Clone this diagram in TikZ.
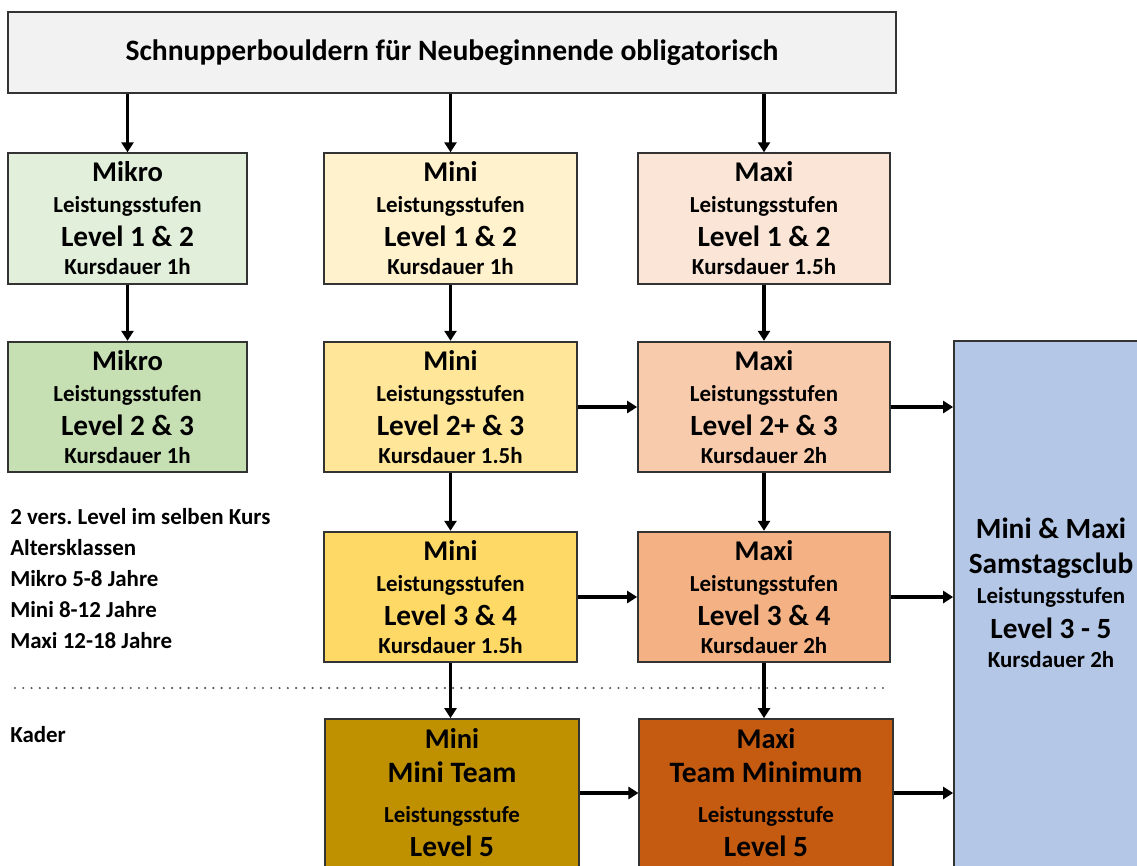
\documentclass[tikz,border=0pt]{standalone}
\usepackage{fontspec}
\setmainfont{Carlito}
\usetikzlibrary{arrows.meta}
\frenchspacing

\definecolor{rand}{HTML}{333333}
\definecolor{grau}{HTML}{F2F2F2}
\definecolor{mikroA}{HTML}{E2EFDA}
\definecolor{mikroB}{HTML}{C6E0B4}
\definecolor{miniA}{HTML}{FFF2CC}
\definecolor{miniB}{HTML}{FFE699}
\definecolor{miniC}{HTML}{FFD966}
\definecolor{miniD}{HTML}{BF9000}
\definecolor{maxiA}{HTML}{FBE5D6}
\definecolor{maxiB}{HTML}{F8CBAD}
\definecolor{maxiC}{HTML}{F4B183}
\definecolor{maxiD}{HTML}{C55A11}
\definecolor{club}{HTML}{B4C7E7}

\newcommand{\gross}[1]{{\fontsize{21.4}{20}\selectfont #1}}
\newcommand{\level}[1]{{\fontsize{22}{20}\selectfont #1}}
\newcommand{\kurs}[3]{\gross{#1}\\
  Leistungsstufen\\[2.25pt]
  \level{#2}\\[-2.25pt]
  Kursdauer #3}
\newcommand{\team}[2]{\gross{#1}\\[2.25pt]
  {\fontsize{22.2}{20}\selectfont #2}\\[6.75pt]
  Leistungsstufe\\[2.25pt]
  \level{Level 5}}

\begin{document}
\begin{tikzpicture}[x=0.75pt,y=-0.75pt,
    box/.style={draw=rand,line width=1.3pt,align=center,inner sep=0pt,
      font=\fontsize{17.2}{23.25}\selectfont\bfseries},
    mikro/.style={box,minimum width=179pt,minimum height=98pt},
    mini/.style={box,minimum width=189.5pt,minimum height=98pt},
    maxi/.style={box,minimum width=189pt,minimum height=98pt},
    kader/.style={box,minimum width=190pt,minimum height=111pt},
    txt/.style={align=center,inner sep=0pt,font=\fontsize{17.2}{23.25}\selectfont\bfseries},
    info/.style={anchor=base west,inner sep=0pt,font=\fontsize{17.2}{17}\selectfont\bfseries},
    pfeil/.style={-{Triangle[length=7.5pt,width=9pt]},line width=2.3pt}]
  \useasboundingbox (0,0) rectangle (1137,865);

  % Einstieg
  \node[box,fill=grau,minimum width=666pt,minimum height=60.75pt,
    font=\fontsize{22.2}{27}\selectfont\bfseries] (schnupper) at (452,52.5)
    {Schnupperbouldern für Neubeginnende obligatorisch};

  % Mikro
  \node[mikro,fill=mikroA] (mik1) at (127.5,218.5) {\kurs{Mikro}{Level 1 \& 2}{1h}};
  \node[mikro,fill=mikroB] (mik2) at (127.5,407) {\kurs{Mikro}{Level 2 \& 3}{1h}};

  % Mini
  \node[mini,fill=miniA] (mini1) at (450.5,218.5) {\kurs{Mini}{Level 1 \& 2}{1h}};
  \node[mini,fill=miniB] (mini2) at (450.5,407) {\kurs{Mini}{Level 2+ \& 3}{1.5h}};
  \node[mini,fill=miniC] (mini3) at (450.5,597) {\kurs{Mini}{Level 3 \& 4}{1.5h}};
  \node[kader,fill=miniD] (mini4) at (452,793) {\team{Mini}{Mini Team}};

  % Maxi
  \node[maxi,fill=maxiA] (maxi1) at (764,218.5) {\kurs{Maxi}{Level 1 \& 2}{1.5h}};
  \node[maxi,fill=maxiB] (maxi2) at (764,407) {\kurs{Maxi}{Level 2+ \& 3}{2h}};
  \node[maxi,fill=maxiC] (maxi3) at (764,597) {\kurs{Maxi}{Level 3 \& 4}{2h}};
  \node[kader,fill=maxiD] (maxi4) at (766,793) {\team{Maxi}{Team Minimum}};

  % Samstagsclub
  \node[box,fill=club,minimum width=147pt,minimum height=404pt] (club) at (1052,610.5) {};
  \node[txt] (clubtext) at (1051,593)
    {\level{Mini \& Maxi}\\[2.75pt]
     \level{Samstagsclub}\\[-0.25pt]
     Leistungsstufen\\[2.75pt]
     \level{Level 3 - 5}\\[-1.25pt]
     Kursdauer 2h};

  % Legende links
  \foreach \t [count=\i] in {2 vers. Level im selben Kurs, Altersklassen,
      Mikro 5-8 Jahre, Mini 8-12 Jahre, Maxi 12-18 Jahre}
    \node[info] (info\i) at (10,{493+31*\i}) {\t};
  \node[info] (kadertext) at (10,742) {Kader};

  % Trennlinie
  \coordinate (trennL) at (15,688);
  \coordinate (trennR) at (887,688);
  \draw[gray!70!black,line width=1.8pt,line cap=round,dash pattern=on 0pt off 6.2pt] (trennL) -- (trennR);

  % Pfeile
  \draw[pfeil] (schnupper.south -| mik1) -- (mik1);
  \draw[pfeil] (schnupper.south -| mini1) -- (mini1);
  \draw[pfeil] (schnupper.south -| maxi1) -- (maxi1);
  \draw[pfeil] (mik1) -- (mik2);
  \draw[pfeil] (mini1) -- (mini2);
  \draw[pfeil] (mini2) -- (mini3);
  \draw[pfeil] (mini3.south) -- (mini3.south |- mini4.north);
  \draw[pfeil] (maxi1) -- (maxi2);
  \draw[pfeil] (maxi2) -- (maxi3);
  \draw[pfeil] (maxi3.south) -- (maxi3.south |- maxi4.north);
  \draw[pfeil] (mini2) -- (maxi2);
  \draw[pfeil] (mini3) -- (maxi3);
  \draw[pfeil] (mini4) -- (maxi4);
  \draw[pfeil] (maxi2) -- (maxi2 -| club.west);
  \draw[pfeil] (maxi3) -- (maxi3 -| club.west);
  \draw[pfeil] (maxi4) -- (maxi4 -| club.west);
\end{tikzpicture}
\end{document}
